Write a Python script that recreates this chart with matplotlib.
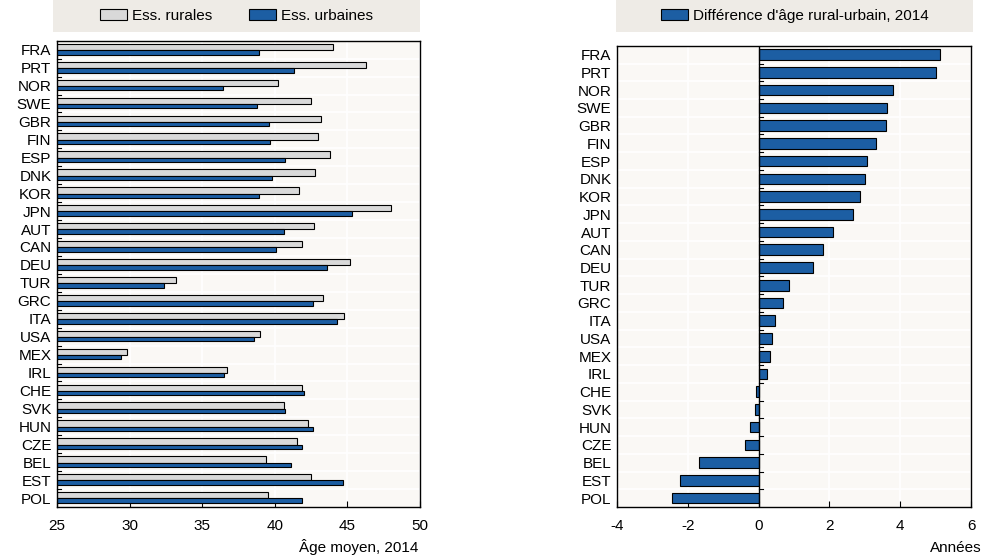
#!/usr/bin/env python3

"""
Rural vs urban mean age of establishments, 2014 (two panels).
"""

import numpy as np
import matplotlib
matplotlib.use('Agg')
import matplotlib.pyplot as plt
from matplotlib.patches import Rectangle, Patch

plt.rcParams['font.family'] = ['Liberation Sans Narrow', 'Liberation Sans', 'DejaVu Sans']

countries = ['FRA', 'PRT', 'NOR', 'SWE', 'GBR', 'FIN', 'ESP', 'DNK', 'KOR', 'JPN',
             'AUT', 'CAN', 'DEU', 'TUR', 'GRC', 'ITA', 'USA', 'MEX', 'IRL', 'CHE',
             'SVK', 'HUN', 'CZE', 'BEL', 'EST', 'POL']
rural = [44.0, 46.3, 40.2, 42.5, 43.2, 43.0, 43.8, 42.8, 41.7, 48.0,
         42.7, 41.9, 45.2, 33.2, 43.3, 44.8, 39.0, 29.8, 36.7, 41.9,
         40.6, 42.3, 41.5, 39.4, 42.5, 39.5]
urban = [38.9, 41.3, 36.4, 38.8, 39.6, 39.7, 40.7, 39.8, 38.9, 45.3,
         40.6, 40.1, 43.6, 32.4, 42.6, 44.3, 38.6, 29.4, 36.5, 42.0,
         40.7, 42.6, 41.9, 41.1, 44.7, 41.9]
diff = [5.13, 5.01, 3.80, 3.63, 3.59, 3.31, 3.05, 3.01, 2.87, 2.68,
        2.10, 1.82, 1.54, 0.85, 0.68, 0.45, 0.38, 0.33, 0.24, -0.07,
        -0.10, -0.25, -0.39, -1.68, -2.23, -2.46]

BLUE = '#1c5ea3'
GREY = '#d9d9d9'
BG = '#faf8f5'
LEGBG = '#eeebe6'
FS = 11

fig = plt.figure(figsize=(10, 5.57), dpi=100)
y = np.arange(len(countries))


def style_axes(ax, xlim, xticks):
    ax.set_facecolor(BG)
    ax.set_xlim(*xlim)
    ax.set_ylim(len(countries) - 0.5, -0.5)
    ax.set_xticks(xticks)
    ax.set_xticklabels([f'{t:g}' for t in xticks], fontsize=FS)
    ax.set_yticks(y)
    ax.set_yticklabels(countries, fontsize=FS)
    ax.tick_params(axis='y', length=0, pad=4)
    ax.tick_params(axis='x', direction='in', length=4, width=0.8, pad=9)
    for t in xticks:
        ax.axvline(t, color='white', lw=1.2, zorder=0)
    for b in np.arange(0.5, len(countries) - 0.5):
        ax.axhline(b, color='white', lw=1.2, zorder=0)
    for s in ax.spines.values():
        s.set_linewidth(1.0)
        s.set_color('black')


# left panel: mean age
ax1 = fig.add_axes([0.057, 0.0898, 0.363, 0.837])
style_axes(ax1, (25, 50), [25, 30, 35, 40, 45, 50])
ax1.barh(y - 0.155, rural, height=0.35, left=0, color=GREY, edgecolor='black', lw=0.8, zorder=2)
ax1.barh(y + 0.145, urban, height=0.25, left=0, color=BLUE, edgecolor='black', lw=0.8, zorder=2)
for b in np.arange(0.5, len(countries) - 0.5):
    ax1.plot([25, 25.3], [b, b], color='black', lw=0.8, zorder=3, clip_on=False)
fig.text(0.418, 0.009, 'Âge moyen, 2014', ha='right', va='baseline', fontsize=FS)

# right panel: difference
ax2 = fig.add_axes([0.617, 0.0898, 0.354, 0.828])
style_axes(ax2, (-4, 6), [-4, -2, 0, 2, 4, 6])
ax2.barh(y, diff, height=0.6, color=BLUE, edgecolor='black', lw=0.8, zorder=2)
ax2.axvline(0, color='black', lw=1.0, zorder=3)
for b in np.arange(0.5, len(countries) - 0.5):
    ax2.plot([0, 0.12], [b, b], color='black', lw=0.8, zorder=3)
fig.text(0.982, 0.009, 'Années', ha='right', va='baseline', fontsize=FS)

# legend boxes
fig.patches.append(Rectangle((0.053, 1 - 32 / 557), 0.367, 32 / 557, transform=fig.transFigure,
                             facecolor=LEGBG, edgecolor='none', zorder=0))
fig.patches.append(Rectangle((0.616, 1 - 32 / 557), 0.357, 32 / 557, transform=fig.transFigure,
                             facecolor=LEGBG, edgecolor='none', zorder=0))

h1 = [Patch(facecolor=GREY, edgecolor='black', lw=0.8, label='Ess. rurales'),
      Patch(facecolor=BLUE, edgecolor='black', lw=0.8, label='Ess. urbaines')]
fig.legend(handles=h1, loc='center', bbox_to_anchor=(0.2365, 1 - 16 / 557), ncol=2, frameon=False,
           fontsize=FS, handlelength=1.8, handleheight=0.75, handletextpad=0.3, columnspacing=2.4)
h2 = [Patch(facecolor=BLUE, edgecolor='black', lw=0.8, label="Différence d'âge rural-urbain, 2014")]
fig.legend(handles=h2, loc='center', bbox_to_anchor=(0.7945, 1 - 16 / 557), frameon=False,
           fontsize=FS, handlelength=1.8, handleheight=0.75, handletextpad=0.3)

fig.savefig('out.png', dpi=100)
plt.close(fig)
